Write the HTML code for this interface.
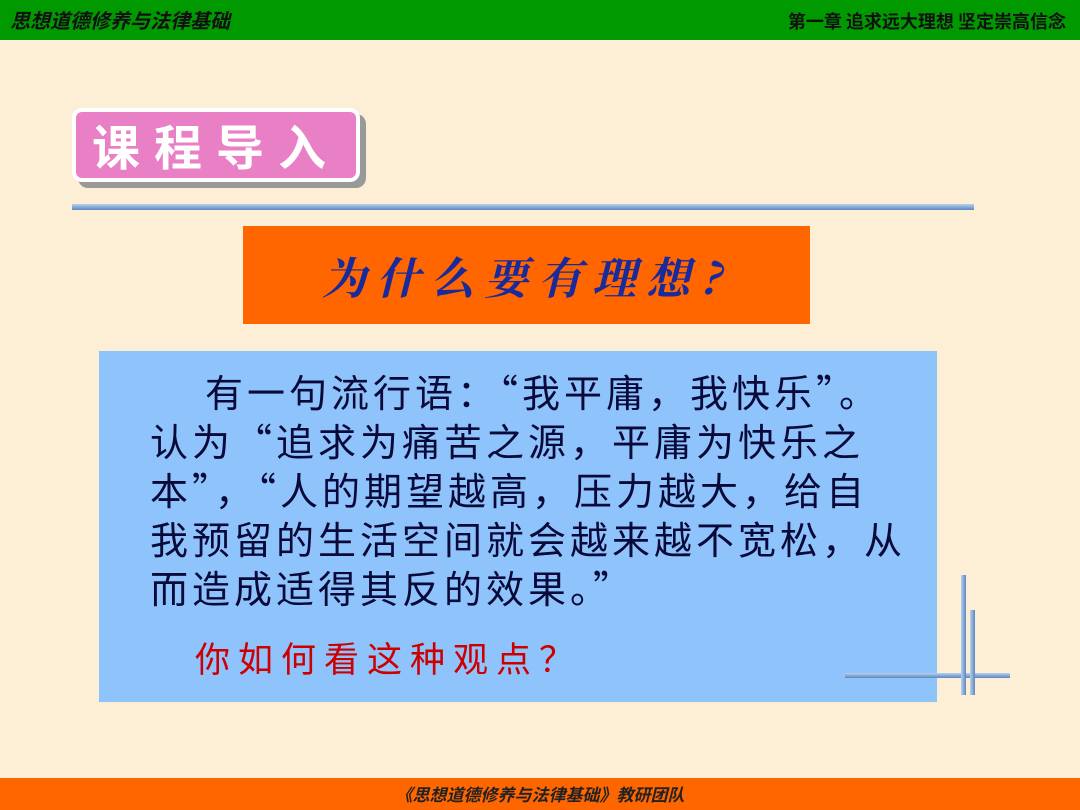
<!DOCTYPE html>
<html><head><meta charset="utf-8"><style>
body{margin:0;width:1080px;height:810px;overflow:hidden;background:#fcefd6;position:relative;font-family:"Liberation Sans","Noto Sans CJK SC",sans-serif}
div{position:absolute;box-sizing:border-box}
.ln{background:linear-gradient(#b8d2ee,#5b86c0)}
</style></head><body>
<div style="left:0;top:0;width:1080px;height:40px;background:#009900"></div>
<div style="left:10px;top:6px;font-size:20px;font-weight:bold;font-style:italic;color:#111;font-family:'Noto Sans CJK SC',sans-serif;line-height:28px">思想道德修养与法律基础</div>
<div style="right:14px;top:8px;font-size:18px;font-weight:bold;color:#111;font-family:'Noto Sans CJK SC',sans-serif;line-height:26px">第一章 追求远大理想 坚定崇高信念</div>
<div style="left:78px;top:114px;width:288px;height:74px;background:#999;border-radius:10px"></div>
<div style="left:72px;top:108px;width:288px;height:74px;background:#e97fc5;border:4px solid #fff;border-radius:10px;color:#fff;font-size:48px;font-weight:bold;letter-spacing:14px;text-align:center;line-height:64px;font-family:'Noto Sans CJK SC',sans-serif">课程导入</div>
<div class="ln" style="left:72px;top:204px;width:902px;height:6px"></div>
<div style="left:243px;top:226px;width:567px;height:98px;background:#ff6600;color:#1a2a9a;font-size:44px;font-weight:bold;font-style:italic;text-align:center;line-height:98px;letter-spacing:10px;font-family:'Noto Serif CJK SC',serif">为什么要有理想?</div>
<div style="left:99px;top:351px;width:838px;height:351px;background:#8fc3fc"></div>
<div style="left:150px;top:366px;white-space:nowrap;font-size:38px;letter-spacing:4px;line-height:49px;color:#0a0a3a;font-family:'Noto Sans CJK SC',sans-serif"><span style="display:inline-block;width:55px"></span>有一句流行语：“我平庸，我快乐”。<br>认为“追求为痛苦之源，平庸为快乐之<br>本”，“人的期望越高，压力越大，给自<br>我预留的生活空间就会越来越不宽松，从<br>而造成适得其反的效果。”</div>
<div style="left:195px;top:634px;white-space:nowrap;font-size:35px;letter-spacing:8px;line-height:48px;color:#cc0000;font-family:'Noto Sans CJK SC',sans-serif">你如何看这种观点？</div>
<div class="ln" style="left:845px;top:673px;width:165px;height:5px"></div>
<div style="left:961px;top:575px;width:5px;height:120px;background:linear-gradient(90deg,#b8d2ee,#5b86c0)"></div>
<div style="left:970px;top:610px;width:5px;height:85px;background:linear-gradient(90deg,#b8d2ee,#5b86c0)"></div>
<div style="left:0;top:778px;width:1080px;height:32px;background:#ff6600"></div>
<div style="left:0;top:782px;width:1080px;text-align:center;font-size:17px;font-weight:bold;font-style:italic;color:#222;line-height:24px;font-family:'Noto Sans CJK SC',sans-serif">《思想道德修养与法律基础》教研团队</div>
</body></html>
